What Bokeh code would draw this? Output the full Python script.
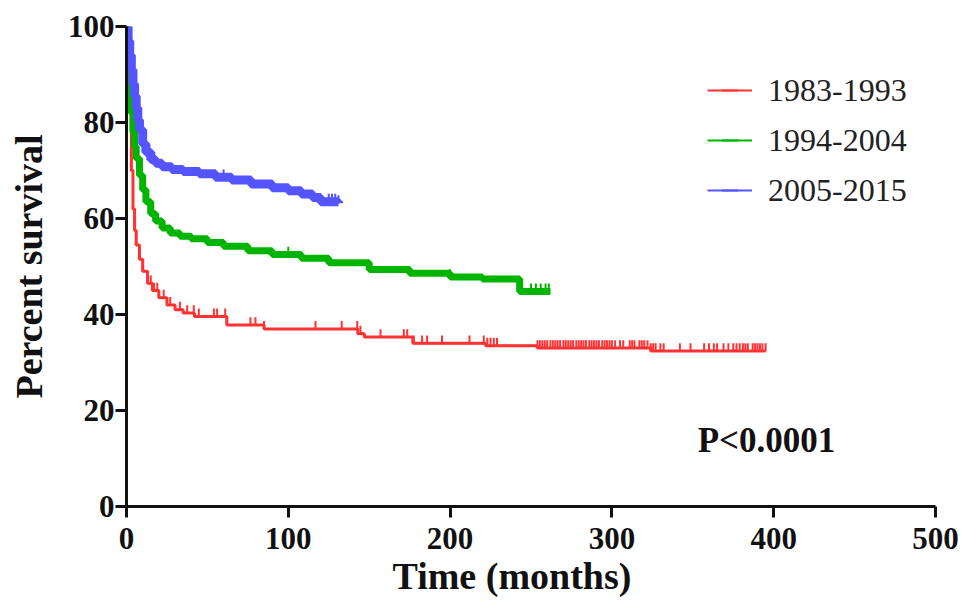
import numpy as np
from bokeh.plotting import figure
from bokeh.models import (ColumnDataSource, FixedTicker, Legend, LegendItem, Label, Range1d,
                          LinearAxis, Title)
from bokeh.transform import dodge
from bokeh.embed import file_html
from bokeh.resources import INLINE

# Kaplan-Meier breakpoints (months, percent survival)
red_t = [0, 1, 2, 3, 4, 5, 6, 8, 10, 13, 16, 20, 25, 30, 35, 42, 62, 85, 143, 147, 177, 222, 254, 324, 395]
red_s = [100, 92, 82, 70, 62, 57.5, 54.5, 51.5, 49, 46.5, 45, 43.5, 42, 41, 40.3, 39.6, 37.8, 37.0, 36.0, 35.3, 34.0, 33.5, 33.0, 32.4, 32.4]

green_t = [0, 1, 2, 3, 4, 5, 6, 8, 10, 12, 15, 18, 22, 27, 33, 40, 50, 60, 75, 90, 108, 125, 150, 175, 200, 220, 243, 262]
green_s = [100, 93, 87, 82, 78, 75, 72.5, 69, 66, 63.5, 61, 59.5, 58, 57, 56.3, 55.8, 55, 54.2, 53.3, 52.5, 51.7, 50.8, 49.4, 48.6, 47.8, 47.4, 44.8, 44.8]

blue_t = [0, 1, 2, 3, 4, 5, 6, 7, 8, 10, 12, 15, 18, 22, 28, 35, 45, 55, 65, 77, 90, 100, 108, 115, 120, 131]
blue_s = [100, 97, 94, 91, 88, 85.5, 83, 80.5, 78.5, 75.5, 73.8, 72.3, 71.5, 70.8, 70.2, 69.8, 69.3, 68.6, 68.0, 67.2, 66.4, 65.8, 65.1, 64.4, 63.5, 63.2]

# censored observations (months)
red_cens = [15, 17, 19, 23, 27, 33, 37.5, 41.6, 44.7, 54, 56, 61, 76.6, 79.7, 85, 116.8, 133, 142.6,
            144.6, 157, 171.4, 173.5, 177.6, 182.7, 185.8, 195, 212, 220.8, 223, 225, 227, 229,
            254, 255.5, 257, 258.5, 260, 262, 263.5, 265, 266.5, 268, 270, 271.5, 273, 274.5, 276,
            278, 279.5, 281, 282.5, 284, 286, 287.5, 289, 290.5, 292, 294, 295.5, 297, 298.5, 300,
            302, 305, 307, 311, 312.5, 314, 317, 318.5, 320, 322, 324, 325.5, 327, 330, 332, 342,
            348.6, 357, 360, 363, 365, 369, 372, 375, 377, 379, 381, 382.5, 384, 387, 388.5, 390,
            391.5, 393, 395]
green_cens = [100, 150, 200, 250, 253, 256, 259, 261]
blue_cens = [60, 90, 125, 127, 129, 131]

groups = ["1983-1993", "1994-2004", "2005-2015"]
colors = ["#ff3333", "#00b400", "#5555ff"]

x_ticks = [0, 100, 200, 300, 400, 500]
y_ticks = [0, 20, 40, 60, 80, 100]

SERIF = "Liberation Serif"


def surv_at(t, times, surv):
    idx = np.searchsorted(times, t, side="right") - 1
    return np.asarray(surv)[idx]


p = figure(width=961, height=614, output_backend="svg", toolbar_location=None,
           x_range=Range1d(0, 500), y_range=Range1d(0, 100),
           min_border_left=126, min_border_right=26, min_border_top=26, min_border_bottom=108)
p.outline_line_color = None
p.xgrid.visible = False
p.ygrid.visible = False

# thickness of the band made by the dense censor marks
band = [3, 7, 9]
curves = [(red_t, red_s, red_cens), (green_t, green_s, green_cens), (blue_t, blue_s, blue_cens)]
items = []
for (t, s, cens), name, col, bw in zip(curves, groups, colors, band):
    p.step(t, s, mode="after", line_color=col, line_width=bw)
    line = p.step(t, s, mode="after", line_color=col, line_width=2)
    src = ColumnDataSource(dict(x=cens, y=surv_at(cens, t, s)))
    ticks = p.scatter(x="x", y=dodge("y", 0.8, range=p.y_range), source=src, marker="dash",
                      angle=np.pi / 2, size=8, line_color=col, line_width=2)
    items.append(LegendItem(label=name, renderers=[line, ticks]))

legend = Legend(items=items, location=(581, 296), orientation="vertical",
                label_text_font=SERIF, label_text_font_size="32px", label_text_color="#222222",
                glyph_width=45, glyph_height=40, label_height=40, label_standoff=16, spacing=10,
                padding=0, margin=0, border_line_color=None, background_fill_alpha=0)
p.add_layout(legend)

p.add_layout(Label(x=353, y=13.8, text="P<0.0001", text_font=SERIF, text_font_size="35px",
                   text_font_style="bold", text_baseline="middle", text_color="#111111"))

for ax, tk in ((p.xaxis, x_ticks), (p.yaxis, y_ticks)):
    ax.ticker = FixedTicker(ticks=tk)
    ax.axis_line_width = 3
    ax.axis_line_color = "#111111"
    ax.major_tick_line_width = 3
    ax.major_tick_line_color = "#111111"
    ax.major_tick_out = 11
    ax.major_tick_in = 0
    ax.minor_tick_out = 0
    ax.minor_tick_in = 0
    ax.major_label_text_font = SERIF
    ax.major_label_text_font_size = "31px"
    ax.major_label_text_font_style = "bold"
    ax.major_label_text_color = "#111111"

p.xaxis.major_label_standoff = 10
p.yaxis.major_label_standoff = 1

# x title sits left of centre in the original, so it is a left-aligned title with an offset
p.add_layout(Title(text="Time (months)", align="left", offset=266, vertical_align="middle",
                   standoff=4, text_font=SERIF, text_font_size="38px", text_font_style="bold",
                   text_color="#111111"), "below")

# y title carried on a bare axis outside the tick labels
ylab = LinearAxis(axis_label="Percent survival", ticker=FixedTicker(ticks=[]),
                  axis_line_color=None, major_tick_out=0, major_tick_in=0,
                  minor_tick_out=0, minor_tick_in=0, major_label_standoff=0,
                  axis_label_standoff=15)
ylab.axis_label_text_font = SERIF
ylab.axis_label_text_font_size = "38px"
ylab.axis_label_text_font_style = "bold"
ylab.axis_label_text_color = "#111111"
p.add_layout(ylab, "left")

open("out.html", "w").write(file_html(p, INLINE))
